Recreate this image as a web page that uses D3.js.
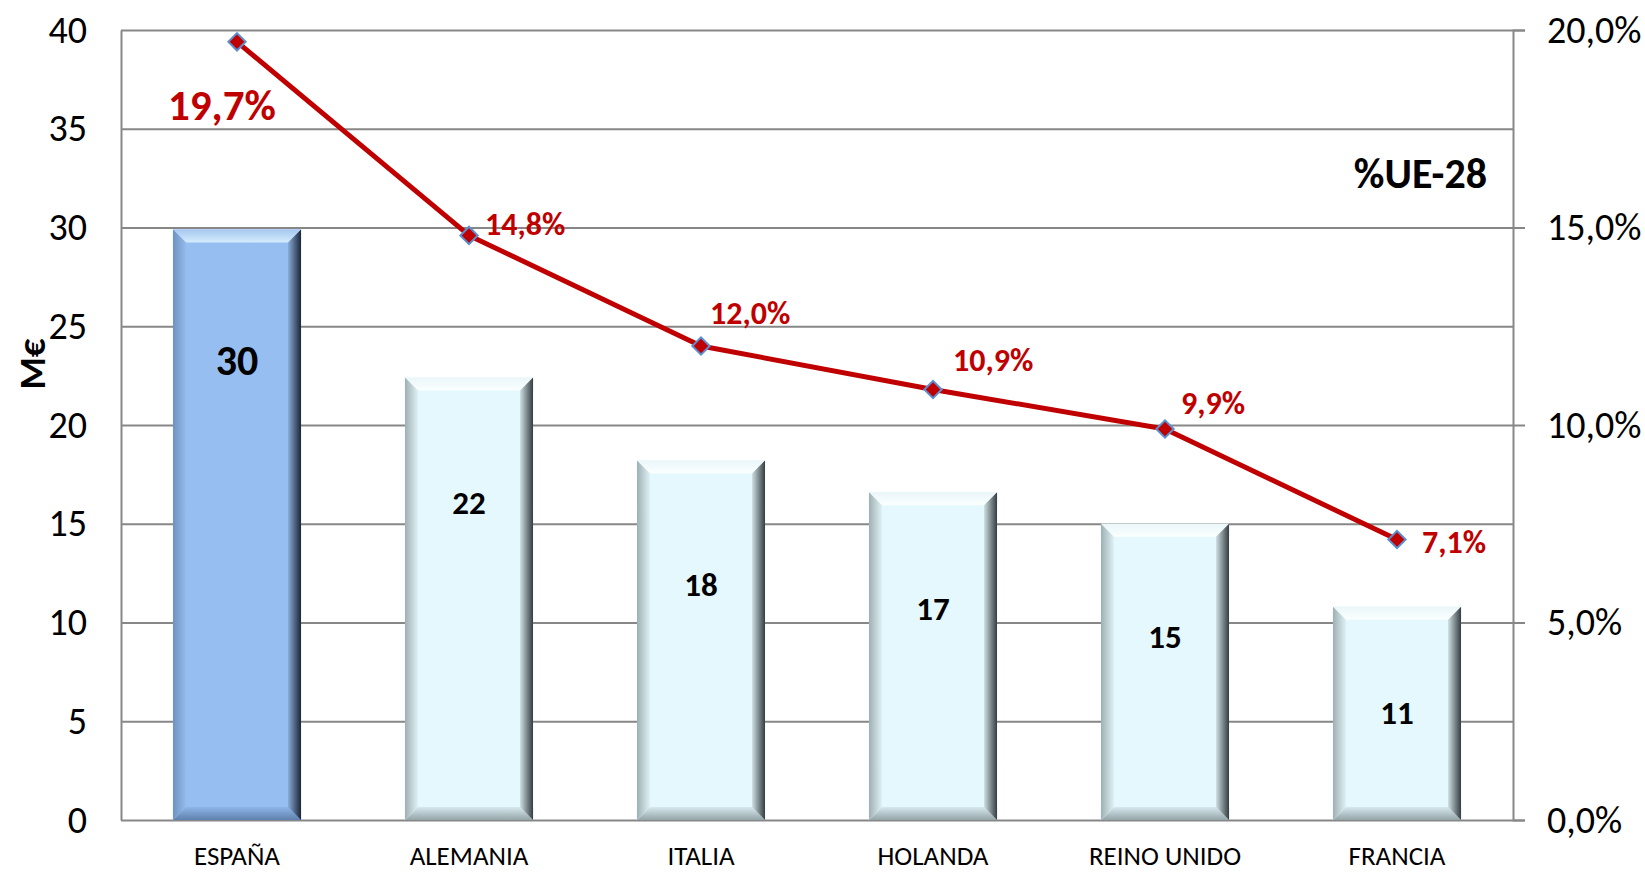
<!DOCTYPE html>
<html>
<head>
<meta charset="utf-8">
<script src="https://cdn.jsdelivr.net/npm/d3@7"></script>
<style>
  body { margin: 0; background: #fff; }
  svg { display: block; font-family: Carlito, Lato, "Open Sans", sans-serif; }
</style>
</head>
<body>
<div id="chart"></div>
<script>
// data
const countries = ["ESPAÑA", "ALEMANIA", "ITALIA", "HOLANDA", "REINO UNIDO", "FRANCIA"];
const millions  = [29.9, 22.4, 18.2, 16.6, 15.0, 10.8];
const barLabels = ["30", "22", "18", "17", "15", "11"];
const shareUE   = [19.7, 14.8, 12.0, 10.9, 9.9, 7.1];
const leftTicks  = [0, 5, 10, 15, 20, 25, 30, 35, 40];
const rightTicks = [0, 5, 10, 15, 20];

// layout tweaks for labels (pixels), copied by eye from the excel chart
const pctNudgeX = [-69, 16, 9, 20, 16, 25];
const pctNudgeY = [63, -12, -33, -30, -26, 2];
const barLabelDrop = [131, 125, 124, 116, 113, 106];

const W = 1645, H = 875;
const plotL = 121, plotR = 1513, plotT = 30, plotB = 820;
const grid = "#878787";

const svg = d3.select("#chart").append("svg")
    .attr("width", W).attr("height", H);

const x = d3.scaleBand().domain(countries).range([plotL, plotR])
    .paddingInner(0.448).paddingOuter(0.224);
const y = d3.scaleLinear().domain([0, 40]).range([plotB, plotT]);
const y2 = d3.scaleLinear().domain([0, 20]).range([plotB, plotT]);

// gradients for the bevel look
const defs = svg.append("defs");
function grad(id, c1, c2, vertical) {
    const g = defs.append("linearGradient").attr("id", id)
        .attr("x1", 0).attr("y1", 0)
        .attr("x2", vertical ? 0 : 1).attr("y2", vertical ? 1 : 0);
    g.append("stop").attr("offset", "0%").attr("stop-color", c1);
    g.append("stop").attr("offset", "100%").attr("stop-color", c2);
}
const palettes = {
    es: { face: "#97bef0", top: ["#a6c8f0", "#d3ecfc"], left: ["#6f92c0", "#93bbec"],
          right: ["#88acd8", "#1b2636"], bot: ["#5f80ad", "#8eb5e8"] },
    ot: { face: "#e5f8fd", top: ["#eaf6f9", "#fbffff"], left: ["#9fb0b4", "#dff1f6"],
          right: ["#cfe0e4", "#353d40"], bot: ["#93a5a9", "#d7e9ee"] }
};
Object.keys(palettes).forEach(k => {
    const p = palettes[k];
    grad(k + "-top", p.top[0], p.top[1], true);
    grad(k + "-left", p.left[0], p.left[1], false);
    grad(k + "-right", p.right[0], p.right[1], false);
    grad(k + "-bot", p.bot[1], p.bot[0], true);
});

// gridlines
svg.append("g")
    .attr("transform", `translate(${plotL},0)`)
    .call(d3.axisLeft(y).tickValues(leftTicks).tickSize(-(plotR - plotL)).tickFormat(""))
    .call(g => g.select(".domain").remove())
    .call(g => g.selectAll("line").attr("stroke", grid).attr("stroke-width", 2));

// left axis
svg.append("g")
    .attr("transform", `translate(${plotL},0)`)
    .call(d3.axisLeft(y).tickValues(leftTicks).tickSize(0).tickPadding(34))
    .call(g => g.select(".domain").attr("stroke", grid).attr("stroke-width", 2))
    .call(g => g.selectAll("text").attr("font-size", 38).attr("fill", "#000")
        .attr("font-family", "Carlito, Lato, sans-serif"));

// right axis
svg.append("g")
    .attr("transform", `translate(${plotR},0)`)
    .call(d3.axisRight(y2).tickValues(rightTicks).tickSize(12).tickPadding(22)
        .tickFormat(d => d.toFixed(1).replace(".", ",") + "%"))
    .call(g => g.select(".domain").attr("stroke", grid).attr("stroke-width", 2))
    .call(g => g.selectAll("line").attr("stroke", grid).attr("stroke-width", 2))
    .call(g => g.selectAll("text").attr("font-size", 38).attr("fill", "#000")
        .attr("font-family", "Carlito, Lato, sans-serif"));

// bars with bevel
const b = 13;
const bars = svg.append("g").selectAll("g").data(countries).join("g");
bars.each(function(c, i) {
    const g = d3.select(this);
    const k = i === 0 ? "es" : "ot";
    const x0 = x(c), x1 = x(c) + x.bandwidth();
    const y0 = y(millions[i]), y1 = y(0);
    g.append("rect").attr("x", x0).attr("y", y0).attr("width", x1 - x0).attr("height", y1 - y0)
        .attr("fill", palettes[k].face);
    const poly = (pts, fill) => g.append("polygon")
        .attr("points", pts.map(p => p.join(",")).join(" ")).attr("fill", fill);
    poly([[x0, y0], [x1, y0], [x1 - b, y0 + b], [x0 + b, y0 + b]], `url(#${k}-top)`);
    poly([[x0, y1], [x1, y1], [x1 - b, y1 - b], [x0 + b, y1 - b]], `url(#${k}-bot)`);
    poly([[x0, y0], [x0 + b, y0 + b], [x0 + b, y1 - b], [x0, y1]], `url(#${k}-left)`);
    poly([[x1, y0], [x1 - b, y0 + b], [x1 - b, y1 - b], [x1, y1]], `url(#${k}-right)`);
});

// bar value labels
svg.append("g").selectAll("text").data(countries).join("text")
    .attr("x", c => x(c) + x.bandwidth() / 2)
    .attr("y", (c, i) => y(millions[i]) + barLabelDrop[i])
    .attr("dy", "0.35em")
    .attr("text-anchor", "middle")
    .attr("font-weight", "bold")
    .attr("font-size", (c, i) => i === 0 ? 42 : 33)
    .attr("fill", "#000")
    .text((c, i) => barLabels[i]);

// bottom axis (just the labels, baseline is the 0 gridline)
svg.append("g")
    .attr("transform", `translate(0,${plotB})`)
    .call(d3.axisBottom(x).tickSize(0).tickPadding(26))
    .call(g => g.select(".domain").remove())
    .call(g => g.selectAll("text").attr("font-size", 27).attr("fill", "#000")
        .attr("font-family", "Carlito, Lato, sans-serif"));

// share line
const cx = c => x(c) + x.bandwidth() / 2;
const line = d3.line().x((d, i) => cx(countries[i])).y(d => y2(d));
svg.append("path").datum(shareUE)
    .attr("d", line)
    .attr("fill", "none")
    .attr("stroke", "#c00000")
    .attr("stroke-width", 5)
    .attr("stroke-linejoin", "round");

svg.append("g").selectAll("path").data(shareUE).join("path")
    .attr("d", d3.symbol(d3.symbolSquare, 150))
    .attr("transform", (d, i) => `translate(${cx(countries[i])},${y2(d)}) rotate(45)`)
    .attr("fill", "#c00000")
    .attr("stroke", "#5b8fd0")
    .attr("stroke-width", 2);

// share labels
svg.append("g").selectAll("text").data(shareUE).join("text")
    .attr("x", (d, i) => cx(countries[i]) + pctNudgeX[i])
    .attr("y", (d, i) => y2(d) + pctNudgeY[i])
    .attr("dy", "0.35em")
    .attr("font-weight", "bold")
    .attr("font-size", (d, i) => i === 0 ? 43 : 32)
    .attr("fill", "#c00000")
    .text(d => d.toFixed(1).replace(".", ",") + "%");

// titles
svg.append("text")
    .attr("transform", "translate(32,364) rotate(-90)")
    .attr("dy", "0.35em")
    .attr("text-anchor", "middle")
    .attr("font-weight", "bold")
    .attr("font-size", 37)
    .text("M€");

svg.append("text")
    .attr("x", 1487).attr("y", 188)
    .attr("text-anchor", "end")
    .attr("font-weight", "bold")
    .attr("font-size", 42)
    .text("%UE-28");
</script>
</body>
</html>
